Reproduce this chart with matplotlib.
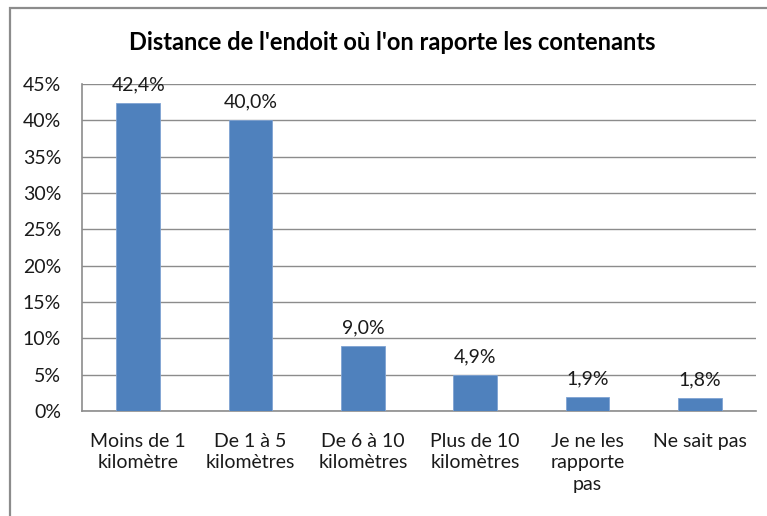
import matplotlib
matplotlib.use("Agg")
import matplotlib.pyplot as plt
from matplotlib.patches import Rectangle

categories = ["Moins de 1\nkilomètre", "De 1 à 5\nkilomètres", "De 6 à 10\nkilomètres",
              "Plus de 10\nkilomètres", "Je ne les\nrapporte\npas", "Ne sait pas"]
values = [42.4, 40.0, 9.0, 4.9, 1.9, 1.8]
value_labels = ["42,4%", "40,0%", "9,0%", "4,9%", "1,9%", "1,8%"]
yticks = [0, 5, 10, 15, 20, 25, 30, 35, 40, 45]
ytick_labels = ["0%", "5%", "10%", "15%", "20%", "25%", "30%", "35%", "40%", "45%"]
title = "Distance de l'endoit où l'on raporte les contenants"

plt.rcParams['font.family'] = ['Lato', 'DejaVu Sans']

W, H = 767, 516
fig = plt.figure(figsize=(W / 100, H / 100), dpi=100)
fig.patch.set_facecolor("white")

# chart frame
fig.patches.append(Rectangle((10 / W, -0.1), 1.2, (516 - 8) / H + 0.1,
                             transform=fig.transFigure, fill=False,
                             edgecolor="#8c8c8c", linewidth=1.6, zorder=0))

ax = fig.add_axes([82 / W, 1 - 411 / H, (756 - 82) / W, (411 - 84) / H])
x = list(range(len(categories)))
ax.bar(x, values, width=0.39, color="#4F81BD", edgecolor="#7FA3D3", linewidth=0.6, zorder=3)
for xi, v, lab in zip(x, values, value_labels):
    ax.annotate(lab, (xi, v), xytext=(0, 7), textcoords="offset points",
                ha="center", va="bottom", fontsize=14, color="#1a1a1a")

ax.set_xlim(-0.5, len(categories) - 0.5)
ax.set_ylim(0, 45)
ax.set_yticks(yticks)
ax.set_yticklabels(ytick_labels, fontsize=14)
ax.set_xticks(x)
ax.set_xticklabels(categories, fontsize=14, linespacing=1.3, va="top")
ax.grid(axis="y", color="#8c8c8c", linewidth=1.0, zorder=0)
ax.set_axisbelow(True)
for s in ["top", "right"]:
    ax.spines[s].set_visible(False)
for s in ["left", "bottom"]:
    ax.spines[s].set_color("#8c8c8c")
    ax.spines[s].set_linewidth(1.2)
ax.tick_params(axis="both", length=0, colors="#1a1a1a")
ax.tick_params(axis="y", pad=15)
ax.tick_params(axis="x", pad=16)

fig.text(392 / W, 1 - 49.5 / H, title, ha="center", va="baseline",
         fontsize=17, fontweight="bold", color="#000000")

fig.savefig("out.png", dpi=100)
